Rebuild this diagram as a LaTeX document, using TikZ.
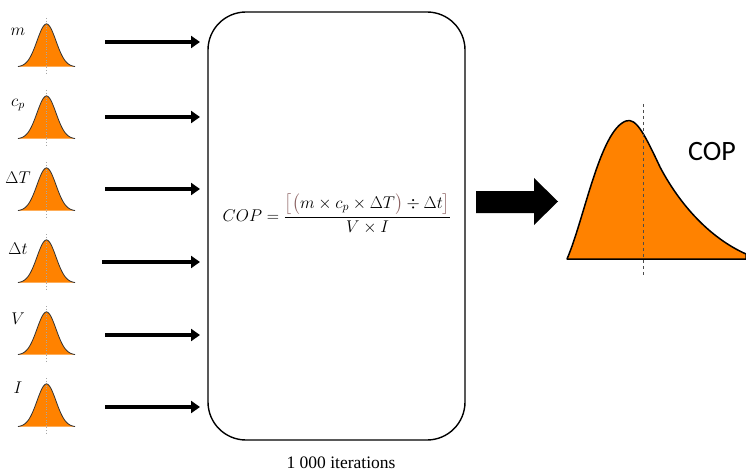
\RequirePackage{fix-cm}
\documentclass[tikz,border=0pt]{standalone}
\usepackage{amsmath}
\usepackage{fontspec}
\setsansfont{Carlito}
\newfontfamily\timesfont{Liberation Serif}
\usetikzlibrary{arrows.meta}
\definecolor{distorange}{HTML}{FF8200}
\definecolor{brk}{HTML}{8A6060}
\tikzset{
  midline/.style={draw=gray!70,dotted,line width=0.6pt},
  inarrow/.style={line width=3.5pt,-{Triangle[length=9pt,width=12pt]}},
  lbl/.style={font=\fontsize{17}{20}\selectfont,inner sep=0pt},
}
\begin{document}
\begin{tikzpicture}[x=1pt,y=-1pt]
\useasboundingbox (0,0) rectangle (746,473);
% small distributions
\foreach \n/\b/\lab/\ly/\ay/\ax in {m/67/{$m$}/32/42/105, cp/139/{$c_p$}/105/117/105, dT/211/{$\Delta T$}/178/189/105, dt/283/{$\Delta t$}/249/262/102, V/355/{$V$}/319/335/105, I/427/{$I$}/388/407/105}{
  \fill[distorange] plot[domain=18:75,samples=60,smooth] (\x,{\b-43*exp(-((\x-46.5)/9.5)^2/2)}) -- cycle;
  \draw[midline] (46.5,\b-49) -- (46.5,\b+6);
  \draw[black!80,line width=0.8pt] plot[domain=18:75,samples=60,smooth] (\x,{\b-43*exp(-((\x-46.5)/9.5)^2/2)});
  \node[lbl] (lab-\n) at (18,\ly) {\lab};
  \coordinate (s-\n) at (\ax,\ay);
  \coordinate (e-\n) at (200,\ay);
  \draw[inarrow] (s-\n) -- (e-\n);
}
% box
\node[draw,line width=1.4pt,rounded corners=38pt,minimum width=257pt,minimum height=428pt,inner sep=0pt] (box) at (336.5,226) {};
\node[font=\fontsize{17}{19}\selectfont] (formula) at (337,214) {$\displaystyle COP=\frac{\textcolor{brk}{\big[\big(}m\times c_p\times\Delta T\textcolor{brk}{\big)}\div\Delta t\textcolor{brk}{\big]}}{V\times I}$};
\node[font=\timesfont\fontsize{17.5}{20}\selectfont] (iter) at (341,463) {1 000 iterations};
% big arrow
\fill (476,191) -- (534,191) -- (534,178) -- (558,201.5) -- (534,225) -- (534,213) -- (476,213) -- cycle;
\coordinate (ba) at (476,201.5);
% big distribution
\draw[fill=distorange,line width=1.5pt,line join=round] (567,259) .. controls (584,220) and (600,130) .. (626,121) .. controls (636,117) and (645,135) .. (660,167) .. controls (680,205) and (710,238) .. (746,254) -- (746,259) -- cycle;
\draw[dashed,line width=0.8pt,black!70] (643,104) -- (643,275);
\node[font=\sffamily\fontsize{28}{30}\selectfont] (cop) at (712,152) {COP};
\end{tikzpicture}
\end{document}
